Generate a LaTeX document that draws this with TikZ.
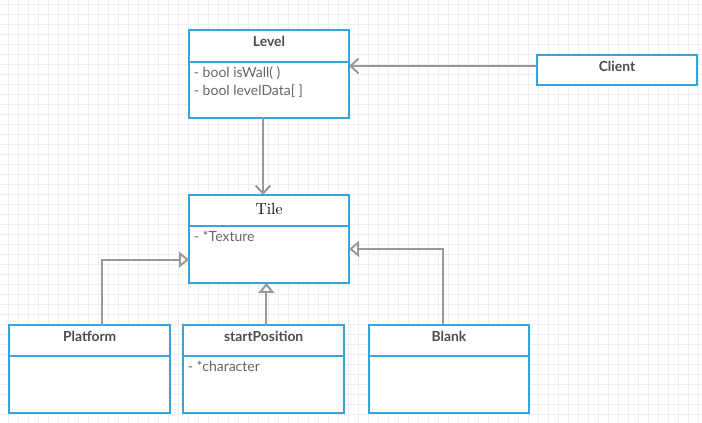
\documentclass[tikz,border=0pt]{standalone}
\usepackage{fontspec}
\usetikzlibrary{positioning,arrows.meta}
\newfontfamily\latofont{Lato}
\definecolor{umlblue}{RGB}{56,164,221}
\definecolor{umlline}{RGB}{153,153,153}
\definecolor{umltext}{RGB}{77,77,77}
\definecolor{umlattr}{RGB}{102,102,102}
\definecolor{gridgray}{RGB}{238,238,238}
\tikzset{
  classhead/.style={draw=umlblue, line width=1.5pt, fill=white, outer sep=0pt,
    minimum width=120pt, minimum height=24pt, inner sep=0pt,
    text height=7.5pt, text depth=6pt, text=umltext,
    font=\latofont\bfseries\fontsize{10.4}{12}\selectfont},
  classbody/.style={draw=umlblue, line width=1.5pt, fill=white, outer sep=0pt,
    minimum width=120pt, inner sep=0pt},
  attrtext/.style={anchor=north west, inner sep=3.5pt, align=left, text=umlattr,
    font=\latofont\fontsize{10.5}{13.5}\selectfont},
  assoc/.style={draw=umlline, line width=1.5pt,
    -{Straight Barb[length=6pt, width=11pt, line width=1.5pt]}},
  inherit/.style={draw=umlline, line width=1.5pt,
    -{Triangle[open, fill=white, length=7.5pt, width=12pt, line width=1.5pt]}}
}

\begin{document}
\begin{tikzpicture}[x=0.75pt, y=-0.75pt]
		%%%%% START %%%%%
		
		\clip (0, 0) rectangle (702, 423);
		\begin{scope}[shift={(8, 4)}]
			\draw[gridgray, line width=0.5pt, step=7.5pt] (-10, -10) grid (700, 420);
		\end{scope}
		
		% Level
		\node[classhead, anchor=north west] (levelhead) at (189, 30) {Level};
		\node[classbody, minimum height=42pt, below=0pt of levelhead] (levelbody) {};
		\node[attrtext] (levelattr) at (levelbody.north west) {- bool isWall( )\\- bool levelData[ ]};
		
		% Client
		\node[classhead, anchor=north west, minimum height=22.5pt, text depth=5pt] (client) at (537, 55) {Client};
		
		% Tile
		\node[classhead, anchor=north west, minimum height=23pt, text height=8pt, text depth=2pt,
			text=black, font=\fontsize{12}{14}\selectfont] (tilehead) at (189, 195) {Tile};
		\node[classbody, minimum height=43pt, below=0pt of tilehead] (tilebody) {};
		\node[attrtext] (tileattr) at (tilebody.north west) {- *Texture};
		
		% Platform
		\node[classhead, anchor=north west, minimum width=121pt, minimum height=23pt] (platformhead) at (9, 325) {Platform};
		\node[classbody, minimum width=121pt, minimum height=43pt, below=0pt of platformhead] (platformbody) {};
		
		% startPosition
		\node[classhead, anchor=north west, minimum width=121pt, minimum height=23pt] (starthead) at (183, 325) {startPosition};
		\node[classbody, minimum width=121pt, minimum height=43pt, below=0pt of starthead] (startbody) {};
		\node[attrtext] (startattr) at (startbody.north west) {- *character};
		
		% Blank
		\node[classhead, anchor=north west, minimum height=23pt] (blankhead) at (369, 325) {Blank};
		\node[classbody, minimum height=43pt, below=0pt of blankhead] (blankbody) {};
		
		% connectors
		\draw[assoc] ([yshift=3pt]client.west) -- ([yshift=3pt]client.west -| levelbody.east);
		\draw[assoc] ([xshift=-4.5pt]levelbody.south) -- ([xshift=-4.5pt]levelbody.south |- tilehead.north);
		\draw[inherit] ([xshift=9.5pt]platformhead.north) |- ([yshift=-4pt]tilebody.west);
		\draw[inherit] ([xshift=2pt]starthead.north) -- ([xshift=2pt]starthead.north |- tilebody.south);
		\draw[inherit] ([xshift=-4.5pt]blankhead.north) |- ([yshift=4pt]tilebody.east);
		
		%%%%% END %%%%%
	\end{tikzpicture}
\end{document}
